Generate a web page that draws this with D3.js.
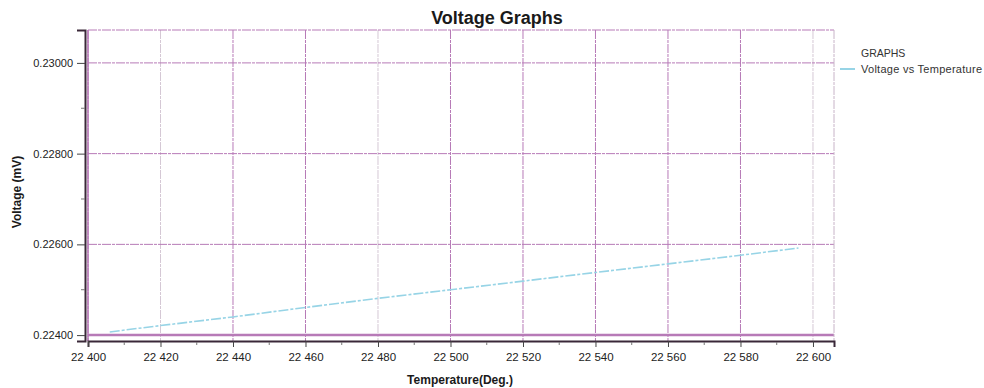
<!DOCTYPE html>
<html>
<head>
<meta charset="utf-8">
<script src="https://cdn.jsdelivr.net/npm/d3@7"></script>
<style>
  body { margin: 0; background: #fff; }
  text { font-family: Arial, "Liberation Sans", sans-serif; }
</style>
</head>
<body>
<script>
// Data
const temperature = [22406, 22420, 22440, 22460, 22480, 22500, 22520, 22540, 22560, 22580, 22596];
const voltage = [0.22407, 0.22421, 0.22440, 0.22461, 0.22481, 0.22500, 0.22519, 0.22538, 0.22557, 0.22576, 0.22592];
const xTicks = [22400, 22420, 22440, 22460, 22480, 22500, 22520, 22540, 22560, 22580, 22600];
const yTicks = [0.224, 0.226, 0.228, 0.230];
const seriesName = "Voltage vs Temperature";

const data = temperature.map((t, i) => ({ t: t, v: voltage[i] }));

let width = 984, height = 388;
let margin = { top: 30, bottom: 47, left: 88, right: 150 };

let svg = d3.select('body')
  .append('svg')
  .attr('width', width)
  .attr('height', height);

// Scales
const xScale = d3.scaleLinear()
  .domain([22400, 22605.8])
  .range([margin.left, width - margin.right]);

const yScale = d3.scaleLinear()
  .domain([0.22387, 0.230725])
  .range([height - margin.bottom, margin.top]);

const gridColor = '#b77ab7';

// Vertical grid lines
svg.append('g')
  .selectAll('line')
  .data(xTicks)
  .enter()
  .append('line')
  .attr('x1', d => xScale(d))
  .attr('x2', d => xScale(d))
  .attr('y1', margin.top)
  .attr('y2', height - margin.bottom)
  .attr('stroke', (d, i) => (i === 1 || i === 4 || i === 10) ? '#d5c8d5' : gridColor)
  .attr('stroke-width', 1)
  .attr('stroke-dasharray', '9,1,3,1');

// Horizontal grid lines
svg.append('g')
  .selectAll('line')
  .data(yTicks)
  .enter()
  .append('line')
  .attr('x1', margin.left)
  .attr('x2', width - margin.right)
  .attr('y1', d => yScale(d))
  .attr('y2', d => yScale(d))
  .attr('stroke', gridColor)
  .attr('stroke-width', d => d === 0.224 ? 2.5 : 1)
  .attr('stroke-dasharray', d => d === 0.224 ? null : '9,1,3,1');

// Plot frame: top, right and left edges
svg.append('line')
  .attr('x1', margin.left).attr('x2', width - margin.right)
  .attr('y1', margin.top).attr('y2', margin.top)
  .attr('stroke', gridColor).attr('stroke-dasharray', '9,1,3,1');
svg.append('line')
  .attr('x1', width - margin.right).attr('x2', width - margin.right)
  .attr('y1', margin.top).attr('y2', height - margin.bottom)
  .attr('stroke', '#c8b4c8').attr('stroke-dasharray', '9,1,3,1');
svg.append('line')
  .attr('x1', margin.left).attr('x2', margin.left)
  .attr('y1', margin.top).attr('y2', height - margin.bottom)
  .attr('stroke', gridColor).attr('stroke-width', 1.5);

// Axes
let xAxis = svg.append('g')
  .attr('transform', `translate(0,${height - margin.bottom})`)
  .call(d3.axisBottom(xScale)
    .tickValues(xTicks)
    .tickSize(6)
    .tickPadding(6)
    .tickFormat(d => d3.format(',')(d).replace(',', ' ')));

let yAxis = svg.append('g')
  .attr('transform', `translate(${margin.left - 3},0)`)
  .call(d3.axisLeft(yScale)
    .tickValues(yTicks)
    .tickSize(8)
    .tickPadding(4)
    .tickFormat(d3.format('.5f')));

[xAxis, yAxis].forEach(a => {
  a.select('.domain').attr('stroke', '#3a2838').attr('stroke-width', 2);
  a.selectAll('.tick line').attr('stroke', '#444');
  a.selectAll('.tick text').attr('fill', '#222').style('font-size', '11px');
});
xAxis.selectAll('.tick text').style('font-size', '11.5px');

// Minor ticks
svg.append('g')
  .selectAll('line')
  .data(xTicks.slice(0, -1).map(d => d + 10))
  .enter()
  .append('line')
  .attr('x1', d => xScale(d)).attr('x2', d => xScale(d))
  .attr('y1', height - margin.bottom + 1).attr('y2', height - margin.bottom + 4)
  .attr('stroke', '#777');

svg.append('g')
  .selectAll('line')
  .data(yTicks.slice(0, -1).map(d => d + 0.001))
  .enter()
  .append('line')
  .attr('x1', margin.left - 7).attr('x2', margin.left - 3)
  .attr('y1', d => yScale(d)).attr('y2', d => yScale(d))
  .attr('stroke', '#777');

// Series line
const line = d3.line()
  .x(d => xScale(d.t))
  .y(d => yScale(d.v));

svg.append('path')
  .datum(data)
  .attr('fill', 'none')
  .attr('stroke', '#97d4e6')
  .attr('stroke-width', 1.6)
  .attr('stroke-dasharray', '10,2,3,2')
  .attr('d', line);

// Title
svg.append('text')
  .attr('x', 497)
  .attr('y', 24)
  .attr('text-anchor', 'middle')
  .style('font-size', '18px')
  .style('font-weight', 'bold')
  .attr('fill', '#1a1a1a')
  .text('Voltage Graphs');

// Axis titles
svg.append('text')
  .attr('x', 460)
  .attr('y', 384)
  .attr('text-anchor', 'middle')
  .style('font-size', '12px')
  .style('font-weight', 'bold')
  .attr('fill', '#1a1a1a')
  .text('Temperature(Deg.)');

svg.append('text')
  .attr('transform', 'translate(21,192) rotate(-90)')
  .attr('text-anchor', 'middle')
  .style('font-size', '12px')
  .style('font-weight', 'bold')
  .attr('fill', '#1a1a1a')
  .text('Voltage (mV)');

// Legend
svg.append('text')
  .attr('x', 861)
  .attr('y', 57)
  .style('font-size', '10.5px')
  .attr('fill', '#333')
  .text('GRAPHS');

svg.append('line')
  .attr('x1', 840).attr('x2', 855)
  .attr('y1', 69).attr('y2', 69)
  .attr('stroke', '#97d4e6')
  .attr('stroke-width', 2);

svg.append('text')
  .attr('x', 861)
  .attr('y', 73)
  .attr('textLength', 121)
  .style('font-size', '11px')
  .attr('fill', '#333')
  .text(seriesName);
</script>
</body>
</html>
